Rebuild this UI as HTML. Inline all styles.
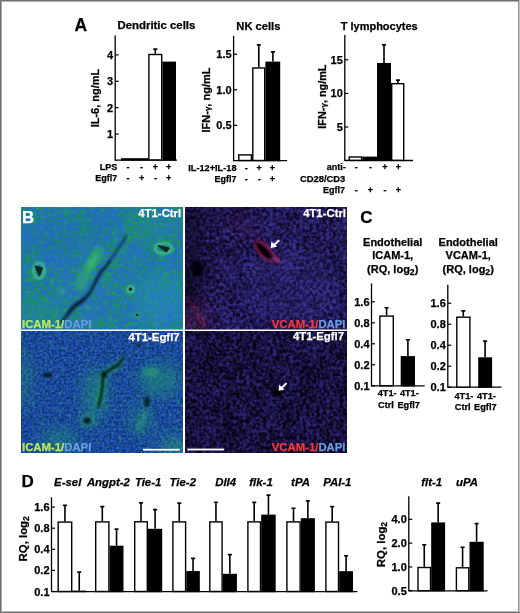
<!DOCTYPE html>
<html><head><meta charset="utf-8"><style>
html,body{margin:0;padding:0;background:#fff;}
svg{display:block;will-change:transform;filter:blur(0.3px);}
text{font-family:"Liberation Sans",sans-serif;stroke-width:0.25px;}
</style></head><body>
<svg xmlns="http://www.w3.org/2000/svg" width="520" height="613" viewBox="0 0 520 613">
<rect x="0" y="0" width="520" height="613" fill="#fff"/>
<rect x="0" y="0" width="520" height="1" fill="#6e6e6e"/><rect x="0" y="1" width="520" height="1" fill="#b0b0b0"/>
<rect x="0" y="0" width="1" height="613" fill="#707070"/><rect x="1" y="1" width="1" height="611" fill="#a4a4a4"/>
<rect x="518" y="1" width="1" height="611" fill="#959595"/><rect x="519" y="0" width="1" height="613" fill="#c0c0c0"/>
<rect x="1" y="611" width="518" height="1" fill="#b5b5b5"/><rect x="0" y="612" width="520" height="1" fill="#707070"/>
<text x="74.5" y="31" font-family="Liberation Sans" font-weight="bold" font-size="17.5" text-anchor="start" fill="#000" stroke="#000" >A</text>
<text x="117.5" y="29.3" font-family="Liberation Sans" font-weight="bold" font-size="11.4" text-anchor="start" fill="#000" stroke="#000" >Dendritic cells</text>
<line x1="115.2" y1="35.4" x2="115.2" y2="160.7" stroke="#000" stroke-width="1.3"/>
<line x1="115.2" y1="134.1" x2="118.7" y2="134.1" stroke="#000" stroke-width="1.2"/>
<text x="113.2" y="138.1" font-family="Liberation Sans" font-weight="bold" font-size="11" text-anchor="end" fill="#000" stroke="#000" >1</text>
<line x1="115.2" y1="107.7" x2="118.7" y2="107.7" stroke="#000" stroke-width="1.2"/>
<text x="113.2" y="111.7" font-family="Liberation Sans" font-weight="bold" font-size="11" text-anchor="end" fill="#000" stroke="#000" >2</text>
<line x1="115.2" y1="81.30000000000001" x2="118.7" y2="81.30000000000001" stroke="#000" stroke-width="1.2"/>
<text x="113.2" y="85.30000000000001" font-family="Liberation Sans" font-weight="bold" font-size="11" text-anchor="end" fill="#000" stroke="#000" >3</text>
<line x1="115.2" y1="54.900000000000006" x2="118.7" y2="54.900000000000006" stroke="#000" stroke-width="1.2"/>
<text x="113.2" y="58.900000000000006" font-family="Liberation Sans" font-weight="bold" font-size="11" text-anchor="end" fill="#000" stroke="#000" >4</text>
<line x1="115.2" y1="160.1" x2="177" y2="160.1" stroke="#000" stroke-width="1.3"/>
<rect x="121.70" y="158.90" width="26.00" height="1.00" fill="#000" stroke="#000" stroke-width="1.4"/>
<rect x="148.90" y="54.50" width="12.80" height="105.40" fill="#fff" stroke="#000" stroke-width="1.4"/>
<rect x="163.10" y="62.30" width="12.20" height="97.60" fill="#000" stroke="#000" stroke-width="1.4"/>
<line x1="155.3" y1="49.3" x2="155.3" y2="53.8" stroke="#000" stroke-width="1.6"/>
<rect x="153.15" y="48.30" width="4.3" height="1.7" rx="0.7" fill="#000"/>
<text transform="translate(99.3,98) rotate(-90)" font-family="Liberation Sans" font-weight="bold" font-size="11" text-anchor="middle" fill="#000" stroke="#000">IL-6, ng/mL</text>
<text x="117.3" y="170.2" font-family="Liberation Sans" font-weight="bold" font-size="9" text-anchor="end" fill="#000" stroke="#000" >LPS</text>
<text x="117.3" y="181.4" font-family="Liberation Sans" font-weight="bold" font-size="9" text-anchor="end" fill="#000" stroke="#000" >Egfl7</text>
<text x="128" y="170" font-family="Liberation Sans" font-weight="bold" font-size="9" text-anchor="middle" fill="#000" stroke="#000" >-</text>
<text x="128" y="181" font-family="Liberation Sans" font-weight="bold" font-size="9" text-anchor="middle" fill="#000" stroke="#000" >-</text>
<text x="141.6" y="170" font-family="Liberation Sans" font-weight="bold" font-size="9" text-anchor="middle" fill="#000" stroke="#000" >-</text>
<text x="141.6" y="181" font-family="Liberation Sans" font-weight="bold" font-size="9" text-anchor="middle" fill="#000" stroke="#000" >+</text>
<text x="155.4" y="170" font-family="Liberation Sans" font-weight="bold" font-size="9" text-anchor="middle" fill="#000" stroke="#000" >+</text>
<text x="155.4" y="181" font-family="Liberation Sans" font-weight="bold" font-size="9" text-anchor="middle" fill="#000" stroke="#000" >-</text>
<text x="168.7" y="170" font-family="Liberation Sans" font-weight="bold" font-size="9" text-anchor="middle" fill="#000" stroke="#000" >+</text>
<text x="168.7" y="181" font-family="Liberation Sans" font-weight="bold" font-size="9" text-anchor="middle" fill="#000" stroke="#000" >+</text>
<text x="236.3" y="29.5" font-family="Liberation Sans" font-weight="bold" font-size="11.2" text-anchor="start" fill="#000" stroke="#000" >NK cells</text>
<line x1="233.6" y1="35.8" x2="233.6" y2="161.29999999999998" stroke="#000" stroke-width="1.3"/>
<line x1="233.6" y1="125.4" x2="237.1" y2="125.4" stroke="#000" stroke-width="1.2"/>
<text x="231.6" y="129.4" font-family="Liberation Sans" font-weight="bold" font-size="11" text-anchor="end" fill="#000" stroke="#000" >0.5</text>
<line x1="233.6" y1="89.8" x2="237.1" y2="89.8" stroke="#000" stroke-width="1.2"/>
<text x="231.6" y="93.8" font-family="Liberation Sans" font-weight="bold" font-size="11" text-anchor="end" fill="#000" stroke="#000" >1.0</text>
<line x1="233.6" y1="54.19999999999999" x2="237.1" y2="54.19999999999999" stroke="#000" stroke-width="1.2"/>
<text x="231.6" y="58.19999999999999" font-family="Liberation Sans" font-weight="bold" font-size="11" text-anchor="end" fill="#000" stroke="#000" >1.5</text>
<line x1="233.6" y1="160.7" x2="287.1" y2="160.7" stroke="#000" stroke-width="1.3"/>
<rect x="238.80" y="154.90" width="12.60" height="5.60" fill="#fff" stroke="#000" stroke-width="1.4"/>
<rect x="252.80" y="68.00" width="11.90" height="92.50" fill="#fff" stroke="#000" stroke-width="1.4"/>
<rect x="266.10" y="62.30" width="13.40" height="98.20" fill="#000" stroke="#000" stroke-width="1.4"/>
<line x1="258.8" y1="45" x2="258.8" y2="67.3" stroke="#000" stroke-width="1.6"/>
<rect x="256.65" y="44.00" width="4.3" height="1.7" rx="0.7" fill="#000"/>
<line x1="272.9" y1="52" x2="272.9" y2="61.6" stroke="#000" stroke-width="1.6"/>
<rect x="270.75" y="51.00" width="4.3" height="1.7" rx="0.7" fill="#000"/>
<text transform="translate(210,100) rotate(-90)" font-family="Liberation Sans" font-weight="bold" font-size="11" text-anchor="middle" stroke="#000">IFN-<tspan font-size="8">γ</tspan>, ng/mL</text>
<text x="236.5" y="170.8" font-family="Liberation Sans" font-weight="bold" font-size="9.2" text-anchor="end" fill="#000" stroke="#000" >IL-12+IL-18</text>
<text x="236.5" y="182.3" font-family="Liberation Sans" font-weight="bold" font-size="9" text-anchor="end" fill="#000" stroke="#000" >Egfl7</text>
<text x="246.2" y="170.5" font-family="Liberation Sans" font-weight="bold" font-size="9" text-anchor="middle" fill="#000" stroke="#000" >-</text>
<text x="246.2" y="182" font-family="Liberation Sans" font-weight="bold" font-size="9" text-anchor="middle" fill="#000" stroke="#000" >-</text>
<text x="259.2" y="170.5" font-family="Liberation Sans" font-weight="bold" font-size="9" text-anchor="middle" fill="#000" stroke="#000" >+</text>
<text x="259.2" y="182" font-family="Liberation Sans" font-weight="bold" font-size="9" text-anchor="middle" fill="#000" stroke="#000" >-</text>
<text x="272.3" y="170.5" font-family="Liberation Sans" font-weight="bold" font-size="9" text-anchor="middle" fill="#000" stroke="#000" >+</text>
<text x="272.3" y="182" font-family="Liberation Sans" font-weight="bold" font-size="9" text-anchor="middle" fill="#000" stroke="#000" >+</text>
<text x="340.7" y="29.5" font-family="Liberation Sans" font-weight="bold" font-size="11" text-anchor="start" fill="#000" stroke="#000" >T lymphocytes</text>
<line x1="344.8" y1="35" x2="344.8" y2="161.1" stroke="#000" stroke-width="1.3"/>
<line x1="344.8" y1="127.0" x2="348.3" y2="127.0" stroke="#000" stroke-width="1.2"/>
<text x="342.8" y="131.0" font-family="Liberation Sans" font-weight="bold" font-size="11" text-anchor="end" fill="#000" stroke="#000" >5</text>
<line x1="344.8" y1="93.39999999999999" x2="348.3" y2="93.39999999999999" stroke="#000" stroke-width="1.2"/>
<text x="342.8" y="97.39999999999999" font-family="Liberation Sans" font-weight="bold" font-size="11" text-anchor="end" fill="#000" stroke="#000" >10</text>
<line x1="344.8" y1="59.8" x2="348.3" y2="59.8" stroke="#000" stroke-width="1.2"/>
<text x="342.8" y="63.8" font-family="Liberation Sans" font-weight="bold" font-size="11" text-anchor="end" fill="#000" stroke="#000" >15</text>
<line x1="344.8" y1="160.5" x2="413.1" y2="160.5" stroke="#000" stroke-width="1.3"/>
<rect x="349.20" y="157.00" width="12.40" height="3.30" fill="#fff" stroke="#000" stroke-width="1.4"/>
<rect x="363.00" y="157.30" width="13.30" height="3.00" fill="#000" stroke="#000" stroke-width="1.4"/>
<rect x="377.70" y="63.70" width="12.60" height="96.60" fill="#000" stroke="#000" stroke-width="1.4"/>
<rect x="391.70" y="83.70" width="12.00" height="76.60" fill="#fff" stroke="#000" stroke-width="1.4"/>
<line x1="384" y1="45" x2="384" y2="63" stroke="#000" stroke-width="1.6"/>
<rect x="381.85" y="44.00" width="4.3" height="1.7" rx="0.7" fill="#000"/>
<line x1="397.9" y1="80.2" x2="397.9" y2="83" stroke="#000" stroke-width="1.6"/>
<rect x="395.75" y="79.20" width="4.3" height="1.7" rx="0.7" fill="#000"/>
<text transform="translate(325.6,96.6) rotate(-90)" font-family="Liberation Sans" font-weight="bold" font-size="10.85" text-anchor="middle" stroke="#000">IFN-<tspan font-size="8">γ</tspan>, ng/mL</text>
<text x="345.7" y="169.9" font-family="Liberation Sans" font-weight="bold" font-size="9" text-anchor="end" fill="#000" stroke="#000" >anti-</text>
<text x="345.3" y="182.1" font-family="Liberation Sans" font-weight="bold" font-size="9.4" text-anchor="end" fill="#000" stroke="#000" >CD28/CD3</text>
<text x="345" y="192.9" font-family="Liberation Sans" font-weight="bold" font-size="9" text-anchor="end" fill="#000" stroke="#000" >Egfl7</text>
<text x="356.3" y="170" font-family="Liberation Sans" font-weight="bold" font-size="9" text-anchor="middle" fill="#000" stroke="#000" >-</text>
<text x="356.3" y="193" font-family="Liberation Sans" font-weight="bold" font-size="9" text-anchor="middle" fill="#000" stroke="#000" >-</text>
<text x="370.5" y="170" font-family="Liberation Sans" font-weight="bold" font-size="9" text-anchor="middle" fill="#000" stroke="#000" >-</text>
<text x="370.5" y="193" font-family="Liberation Sans" font-weight="bold" font-size="9" text-anchor="middle" fill="#000" stroke="#000" >+</text>
<text x="385" y="170" font-family="Liberation Sans" font-weight="bold" font-size="9" text-anchor="middle" fill="#000" stroke="#000" >+</text>
<text x="385" y="193" font-family="Liberation Sans" font-weight="bold" font-size="9" text-anchor="middle" fill="#000" stroke="#000" >-</text>
<text x="398.3" y="170" font-family="Liberation Sans" font-weight="bold" font-size="9" text-anchor="middle" fill="#000" stroke="#000" >+</text>
<text x="398.3" y="193" font-family="Liberation Sans" font-weight="bold" font-size="9" text-anchor="middle" fill="#000" stroke="#000" >+</text>
<text x="360.2" y="223.2" font-family="Liberation Sans" font-weight="bold" font-size="17" text-anchor="start" fill="#000" stroke="#000" >C</text>
<text x="392.7" y="245.8" font-family="Liberation Sans" font-weight="bold" font-size="11" text-anchor="middle" fill="#000" stroke="#000" >Endothelial</text>
<text x="392.7" y="259.1" font-family="Liberation Sans" font-weight="bold" font-size="11" text-anchor="middle" fill="#000" stroke="#000" >ICAM-1,</text>
<text x="392.7" y="272.6" font-family="Liberation Sans" font-weight="bold" font-size="11" text-anchor="middle" stroke="#000">(RQ, log<tspan font-size="8.6" dy="2.4">2</tspan><tspan dy="-2.4">)</tspan></text>
<line x1="371.5" y1="283.5" x2="371.5" y2="386.40000000000003" stroke="#000" stroke-width="1.3"/>
<line x1="371.5" y1="385.8" x2="375.0" y2="385.8" stroke="#000" stroke-width="1.2"/>
<text x="369.5" y="389.8" font-family="Liberation Sans" font-weight="bold" font-size="11" text-anchor="end" fill="#000" stroke="#000" >0.1</text>
<line x1="371.5" y1="364.8" x2="375.0" y2="364.8" stroke="#000" stroke-width="1.2"/>
<text x="369.5" y="368.8" font-family="Liberation Sans" font-weight="bold" font-size="11" text-anchor="end" fill="#000" stroke="#000" >0.2</text>
<line x1="371.5" y1="343.8" x2="375.0" y2="343.8" stroke="#000" stroke-width="1.2"/>
<text x="369.5" y="347.8" font-family="Liberation Sans" font-weight="bold" font-size="11" text-anchor="end" fill="#000" stroke="#000" >0.4</text>
<line x1="371.5" y1="322.8" x2="375.0" y2="322.8" stroke="#000" stroke-width="1.2"/>
<text x="369.5" y="326.8" font-family="Liberation Sans" font-weight="bold" font-size="11" text-anchor="end" fill="#000" stroke="#000" >0.8</text>
<line x1="371.5" y1="301.8" x2="375.0" y2="301.8" stroke="#000" stroke-width="1.2"/>
<text x="369.5" y="305.8" font-family="Liberation Sans" font-weight="bold" font-size="11" text-anchor="end" fill="#000" stroke="#000" >1.6</text>
<line x1="371.5" y1="385.8" x2="424.7" y2="385.8" stroke="#000" stroke-width="1.3"/>
<rect x="379.90" y="316.10" width="13.40" height="69.60" fill="#fff" stroke="#000" stroke-width="1.4"/>
<line x1="386.6" y1="307.9" x2="386.6" y2="315.4" stroke="#000" stroke-width="1.6"/>
<rect x="384.45" y="306.90" width="4.3" height="1.7" rx="0.7" fill="#000"/>
<rect x="401.40" y="356.80" width="12.90" height="28.90" fill="#000" stroke="#000" stroke-width="1.4"/>
<line x1="407.9" y1="339.9" x2="407.9" y2="356.1" stroke="#000" stroke-width="1.6"/>
<rect x="405.75" y="338.90" width="4.3" height="1.7" rx="0.7" fill="#000"/>
<text x="377.7" y="395.5" font-family="Liberation Sans" font-weight="bold" font-size="9.2" text-anchor="start" fill="#000" stroke="#000" >4T1-</text>
<text x="399.9" y="395.5" font-family="Liberation Sans" font-weight="bold" font-size="9.2" text-anchor="start" fill="#000" stroke="#000" >4T1-</text>
<text x="378" y="407.6" font-family="Liberation Sans" font-weight="bold" font-size="9.2" text-anchor="start" fill="#000" stroke="#000" >Ctrl</text>
<text x="397.4" y="407.6" font-family="Liberation Sans" font-weight="bold" font-size="9.2" text-anchor="start" fill="#000" stroke="#000" >Egfl7</text>
<text x="468.2" y="245.8" font-family="Liberation Sans" font-weight="bold" font-size="11" text-anchor="middle" fill="#000" stroke="#000" >Endothelial</text>
<text x="468.2" y="259.1" font-family="Liberation Sans" font-weight="bold" font-size="11" text-anchor="middle" fill="#000" stroke="#000" >VCAM-1,</text>
<text x="468.2" y="272.6" font-family="Liberation Sans" font-weight="bold" font-size="11" text-anchor="middle" stroke="#000">(RQ, log<tspan font-size="8.6" dy="2.4">2</tspan><tspan dy="-2.4">)</tspan></text>
<line x1="447.8" y1="284.8" x2="447.8" y2="387.8" stroke="#000" stroke-width="1.3"/>
<line x1="447.8" y1="387.2" x2="451.3" y2="387.2" stroke="#000" stroke-width="1.2"/>
<text x="445.8" y="391.2" font-family="Liberation Sans" font-weight="bold" font-size="11" text-anchor="end" fill="#000" stroke="#000" >0.1</text>
<line x1="447.8" y1="366.2" x2="451.3" y2="366.2" stroke="#000" stroke-width="1.2"/>
<text x="445.8" y="370.2" font-family="Liberation Sans" font-weight="bold" font-size="11" text-anchor="end" fill="#000" stroke="#000" >0.2</text>
<line x1="447.8" y1="345.2" x2="451.3" y2="345.2" stroke="#000" stroke-width="1.2"/>
<text x="445.8" y="349.2" font-family="Liberation Sans" font-weight="bold" font-size="11" text-anchor="end" fill="#000" stroke="#000" >0.4</text>
<line x1="447.8" y1="324.2" x2="451.3" y2="324.2" stroke="#000" stroke-width="1.2"/>
<text x="445.8" y="328.2" font-family="Liberation Sans" font-weight="bold" font-size="11" text-anchor="end" fill="#000" stroke="#000" >0.8</text>
<line x1="447.8" y1="303.2" x2="451.3" y2="303.2" stroke="#000" stroke-width="1.2"/>
<text x="445.8" y="307.2" font-family="Liberation Sans" font-weight="bold" font-size="11" text-anchor="end" fill="#000" stroke="#000" >1.6</text>
<line x1="447.8" y1="387.2" x2="501.5" y2="387.2" stroke="#000" stroke-width="1.3"/>
<rect x="456.80" y="317.20" width="13.10" height="69.90" fill="#fff" stroke="#000" stroke-width="1.4"/>
<line x1="463.3" y1="311.1" x2="463.3" y2="316.5" stroke="#000" stroke-width="1.6"/>
<rect x="461.15" y="310.10" width="4.3" height="1.7" rx="0.7" fill="#000"/>
<rect x="478.90" y="358.00" width="12.50" height="29.10" fill="#000" stroke="#000" stroke-width="1.4"/>
<line x1="485.1" y1="341.2" x2="485.1" y2="357.3" stroke="#000" stroke-width="1.6"/>
<rect x="482.95" y="340.20" width="4.3" height="1.7" rx="0.7" fill="#000"/>
<text x="454.5" y="398.7" font-family="Liberation Sans" font-weight="bold" font-size="9.2" text-anchor="start" fill="#000" stroke="#000" >4T1-</text>
<text x="477" y="398.7" font-family="Liberation Sans" font-weight="bold" font-size="9.2" text-anchor="start" fill="#000" stroke="#000" >4T1-</text>
<text x="454.8" y="409.9" font-family="Liberation Sans" font-weight="bold" font-size="9.2" text-anchor="start" fill="#000" stroke="#000" >Ctrl</text>
<text x="474.1" y="409.9" font-family="Liberation Sans" font-weight="bold" font-size="9.2" text-anchor="start" fill="#000" stroke="#000" >Egfl7</text>
<text x="21.6" y="486.5" font-family="Liberation Sans" font-weight="bold" font-size="17" text-anchor="start" fill="#000" stroke="#000" >D</text>
<line x1="51.5" y1="497.3" x2="51.5" y2="592.1" stroke="#000" stroke-width="1.3"/>
<line x1="51.5" y1="591.5" x2="55.0" y2="591.5" stroke="#000" stroke-width="1.2"/>
<text x="49.5" y="595.5" font-family="Liberation Sans" font-weight="bold" font-size="11" text-anchor="end" fill="#000" stroke="#000" >0.1</text>
<line x1="51.5" y1="570.4" x2="55.0" y2="570.4" stroke="#000" stroke-width="1.2"/>
<text x="49.5" y="574.4" font-family="Liberation Sans" font-weight="bold" font-size="11" text-anchor="end" fill="#000" stroke="#000" >0.2</text>
<line x1="51.5" y1="549.3" x2="55.0" y2="549.3" stroke="#000" stroke-width="1.2"/>
<text x="49.5" y="553.3" font-family="Liberation Sans" font-weight="bold" font-size="11" text-anchor="end" fill="#000" stroke="#000" >0.4</text>
<line x1="51.5" y1="528.2" x2="55.0" y2="528.2" stroke="#000" stroke-width="1.2"/>
<text x="49.5" y="532.2" font-family="Liberation Sans" font-weight="bold" font-size="11" text-anchor="end" fill="#000" stroke="#000" >0.8</text>
<line x1="51.5" y1="507.1" x2="55.0" y2="507.1" stroke="#000" stroke-width="1.2"/>
<text x="49.5" y="511.1" font-family="Liberation Sans" font-weight="bold" font-size="11" text-anchor="end" fill="#000" stroke="#000" >1.6</text>
<line x1="51.5" y1="591.7" x2="357.4" y2="591.7" stroke="#000" stroke-width="1.3"/>
<text transform="translate(26.9,538.8) rotate(-90)" font-family="Liberation Sans" font-weight="bold" font-size="11.4" text-anchor="middle" stroke="#000">RQ, log<tspan font-size="8.6" dy="2.4">2</tspan></text>
<text x="54.1" y="485.6" font-family="Liberation Sans" font-weight="bold" font-size="11.4" text-anchor="start" fill="#000" stroke="#000" font-style="italic" >E-sel</text>
<rect x="58.20" y="522.10" width="13.50" height="69.40" fill="#fff" stroke="#000" stroke-width="1.4"/>
<line x1="64.95" y1="505.6" x2="64.95" y2="521.4" stroke="#000" stroke-width="1.6"/>
<rect x="62.80" y="504.60" width="4.3" height="1.7" rx="0.7" fill="#000"/>
<rect x="73.10" y="591.30" width="12.30" height="0.20" fill="#000" stroke="#000" stroke-width="1.4"/>
<line x1="79.25" y1="572.3" x2="79.25" y2="590.6" stroke="#000" stroke-width="1.6"/>
<rect x="77.10" y="571.30" width="4.3" height="1.7" rx="0.7" fill="#000"/>
<text x="86.9" y="485.6" font-family="Liberation Sans" font-weight="bold" font-size="11.4" text-anchor="start" fill="#000" stroke="#000" font-style="italic" >Angpt-2</text>
<rect x="95.70" y="521.90" width="13.20" height="69.60" fill="#fff" stroke="#000" stroke-width="1.4"/>
<line x1="102.3" y1="506.7" x2="102.3" y2="521.2" stroke="#000" stroke-width="1.6"/>
<rect x="100.15" y="505.70" width="4.3" height="1.7" rx="0.7" fill="#000"/>
<rect x="110.30" y="546.40" width="12.50" height="45.10" fill="#000" stroke="#000" stroke-width="1.4"/>
<line x1="116.55" y1="529.3" x2="116.55" y2="545.7" stroke="#000" stroke-width="1.6"/>
<rect x="114.40" y="528.30" width="4.3" height="1.7" rx="0.7" fill="#000"/>
<text x="134.9" y="485.6" font-family="Liberation Sans" font-weight="bold" font-size="11.4" text-anchor="start" fill="#000" stroke="#000" font-style="italic" >Tie-1</text>
<rect x="134.70" y="521.80" width="12.60" height="69.70" fill="#fff" stroke="#000" stroke-width="1.4"/>
<line x1="141.0" y1="503.1" x2="141.0" y2="521.1" stroke="#000" stroke-width="1.6"/>
<rect x="138.85" y="502.10" width="4.3" height="1.7" rx="0.7" fill="#000"/>
<rect x="148.70" y="529.50" width="12.80" height="62.00" fill="#000" stroke="#000" stroke-width="1.4"/>
<line x1="155.1" y1="509.8" x2="155.1" y2="528.8" stroke="#000" stroke-width="1.6"/>
<rect x="152.95" y="508.80" width="4.3" height="1.7" rx="0.7" fill="#000"/>
<text x="169.6" y="485.6" font-family="Liberation Sans" font-weight="bold" font-size="11.4" text-anchor="start" fill="#000" stroke="#000" font-style="italic" >Tie-2</text>
<rect x="172.90" y="521.90" width="12.70" height="69.60" fill="#fff" stroke="#000" stroke-width="1.4"/>
<line x1="179.25" y1="503.3" x2="179.25" y2="521.2" stroke="#000" stroke-width="1.6"/>
<rect x="177.10" y="502.30" width="4.3" height="1.7" rx="0.7" fill="#000"/>
<rect x="187.00" y="571.70" width="12.10" height="19.80" fill="#000" stroke="#000" stroke-width="1.4"/>
<line x1="193.05" y1="558.5" x2="193.05" y2="571" stroke="#000" stroke-width="1.6"/>
<rect x="190.90" y="557.50" width="4.3" height="1.7" rx="0.7" fill="#000"/>
<text x="215.2" y="485.6" font-family="Liberation Sans" font-weight="bold" font-size="11.4" text-anchor="start" fill="#000" stroke="#000" font-style="italic" >Dll4</text>
<rect x="209.80" y="521.90" width="12.30" height="69.60" fill="#fff" stroke="#000" stroke-width="1.4"/>
<line x1="215.95" y1="502.4" x2="215.95" y2="521.2" stroke="#000" stroke-width="1.6"/>
<rect x="213.80" y="501.40" width="4.3" height="1.7" rx="0.7" fill="#000"/>
<rect x="223.50" y="574.50" width="12.70" height="17.00" fill="#000" stroke="#000" stroke-width="1.4"/>
<line x1="229.85000000000002" y1="554.7" x2="229.85000000000002" y2="573.8" stroke="#000" stroke-width="1.6"/>
<rect x="227.70" y="553.70" width="4.3" height="1.7" rx="0.7" fill="#000"/>
<text x="249.3" y="485.6" font-family="Liberation Sans" font-weight="bold" font-size="11.4" text-anchor="start" fill="#000" stroke="#000" font-style="italic" >flk-1</text>
<rect x="247.90" y="521.90" width="12.60" height="69.60" fill="#fff" stroke="#000" stroke-width="1.4"/>
<line x1="254.2" y1="502.5" x2="254.2" y2="521.2" stroke="#000" stroke-width="1.6"/>
<rect x="252.05" y="501.50" width="4.3" height="1.7" rx="0.7" fill="#000"/>
<rect x="261.90" y="515.30" width="13.10" height="76.20" fill="#000" stroke="#000" stroke-width="1.4"/>
<line x1="268.45" y1="495.3" x2="268.45" y2="514.6" stroke="#000" stroke-width="1.6"/>
<rect x="266.30" y="494.30" width="4.3" height="1.7" rx="0.7" fill="#000"/>
<text x="291.1" y="485.6" font-family="Liberation Sans" font-weight="bold" font-size="11.4" text-anchor="start" fill="#000" stroke="#000" font-style="italic" >tPA</text>
<rect x="286.90" y="521.90" width="13.20" height="69.60" fill="#fff" stroke="#000" stroke-width="1.4"/>
<line x1="293.5" y1="508.4" x2="293.5" y2="521.2" stroke="#000" stroke-width="1.6"/>
<rect x="291.35" y="507.40" width="4.3" height="1.7" rx="0.7" fill="#000"/>
<rect x="301.50" y="518.90" width="12.70" height="72.60" fill="#000" stroke="#000" stroke-width="1.4"/>
<line x1="307.85" y1="501" x2="307.85" y2="518.2" stroke="#000" stroke-width="1.6"/>
<rect x="305.70" y="500.00" width="4.3" height="1.7" rx="0.7" fill="#000"/>
<text x="323.2" y="485.6" font-family="Liberation Sans" font-weight="bold" font-size="11.4" text-anchor="start" fill="#000" stroke="#000" font-style="italic" >PAI-1</text>
<rect x="325.90" y="522.10" width="12.60" height="69.40" fill="#fff" stroke="#000" stroke-width="1.4"/>
<line x1="332.2" y1="506.7" x2="332.2" y2="521.4" stroke="#000" stroke-width="1.6"/>
<rect x="330.05" y="505.70" width="4.3" height="1.7" rx="0.7" fill="#000"/>
<rect x="339.90" y="571.90" width="12.40" height="19.60" fill="#000" stroke="#000" stroke-width="1.4"/>
<line x1="346.1" y1="555.9" x2="346.1" y2="571.2" stroke="#000" stroke-width="1.6"/>
<rect x="343.95" y="554.90" width="4.3" height="1.7" rx="0.7" fill="#000"/>
<line x1="408.8" y1="496.25" x2="408.8" y2="591.35" stroke="#000" stroke-width="1.3"/>
<line x1="408.8" y1="590.75" x2="412.3" y2="590.75" stroke="#000" stroke-width="1.2"/>
<text x="406.8" y="594.75" font-family="Liberation Sans" font-weight="bold" font-size="11" text-anchor="end" fill="#000" stroke="#000" >0.5</text>
<line x1="408.8" y1="566.95" x2="412.3" y2="566.95" stroke="#000" stroke-width="1.2"/>
<text x="406.8" y="570.95" font-family="Liberation Sans" font-weight="bold" font-size="11" text-anchor="end" fill="#000" stroke="#000" >1.0</text>
<line x1="408.8" y1="543.15" x2="412.3" y2="543.15" stroke="#000" stroke-width="1.2"/>
<text x="406.8" y="547.15" font-family="Liberation Sans" font-weight="bold" font-size="11" text-anchor="end" fill="#000" stroke="#000" >2.0</text>
<line x1="408.8" y1="519.35" x2="412.3" y2="519.35" stroke="#000" stroke-width="1.2"/>
<text x="406.8" y="523.35" font-family="Liberation Sans" font-weight="bold" font-size="11" text-anchor="end" fill="#000" stroke="#000" >4.0</text>
<line x1="408.8" y1="590.9" x2="487.5" y2="590.9" stroke="#000" stroke-width="1.3"/>
<text transform="translate(384.5,544.5) rotate(-90)" font-family="Liberation Sans" font-weight="bold" font-size="11.4" text-anchor="middle" stroke="#000">RQ, log<tspan font-size="8.6" dy="2.4">2</tspan></text>
<text x="421.3" y="485.6" font-family="Liberation Sans" font-weight="bold" font-size="11.4" text-anchor="start" fill="#000" stroke="#000" font-style="italic" >flt-1</text>
<rect x="418.00" y="567.50" width="12.50" height="23.20" fill="#fff" stroke="#000" stroke-width="1.4"/>
<line x1="424.25" y1="544.9" x2="424.25" y2="566.8" stroke="#000" stroke-width="1.6"/>
<rect x="422.10" y="543.90" width="4.3" height="1.7" rx="0.7" fill="#000"/>
<rect x="431.90" y="523.10" width="12.50" height="67.60" fill="#000" stroke="#000" stroke-width="1.4"/>
<line x1="438.15" y1="503.3" x2="438.15" y2="522.4" stroke="#000" stroke-width="1.6"/>
<rect x="436.00" y="502.30" width="4.3" height="1.7" rx="0.7" fill="#000"/>
<text x="456" y="485.6" font-family="Liberation Sans" font-weight="bold" font-size="11.4" text-anchor="start" fill="#000" stroke="#000" font-style="italic" >uPA</text>
<rect x="456.40" y="567.80" width="12.40" height="22.90" fill="#fff" stroke="#000" stroke-width="1.4"/>
<line x1="462.6" y1="547.4" x2="462.6" y2="567.1" stroke="#000" stroke-width="1.6"/>
<rect x="460.45" y="546.40" width="4.3" height="1.7" rx="0.7" fill="#000"/>
<rect x="470.20" y="542.50" width="12.80" height="48.20" fill="#000" stroke="#000" stroke-width="1.4"/>
<line x1="476.6" y1="523.7" x2="476.6" y2="541.8" stroke="#000" stroke-width="1.6"/>
<rect x="474.45" y="522.70" width="4.3" height="1.7" rx="0.7" fill="#000"/>
<defs>
<filter id="ct1" x="0" y="0" width="1" height="1" color-interpolation-filters="sRGB"><feTurbulence type="turbulence" baseFrequency="0.22" numOctaves="2" seed="3" result="a"/><feColorMatrix in="a" type="matrix" values="0 0 0 1 0 0 0 0 1 0 0 0 0 1 0 0 0 0 0 1" result="ga"/><feTurbulence type="fractalNoise" baseFrequency="0.04" numOctaves="2" seed="11" result="b"/><feColorMatrix in="b" type="matrix" values="0 0 0 1 0 0 0 0 1 0 0 0 0 1 0 0 0 0 0 1" result="gb"/><feComposite in="ga" in2="gb" operator="arithmetic" k1="0" k2="3.0" k3="0.9" k4="-0.4700"/><feColorMatrix type="matrix" values="0.0471 0 0 0 0.0941 -0.1490 0 0 0 0.5804 0.4549 0 0 0 0.3216 0 0 0 0 1"/><feGaussianBlur stdDeviation="0.5"/></filter>
<filter id="sp1" x="0" y="0" width="1" height="1" color-interpolation-filters="sRGB"><feTurbulence type="fractalNoise" baseFrequency="0.22" numOctaves="2" seed="21"/><feColorMatrix type="matrix" values="0 0 0 0 0.2353 0 0 0 0 0.7843 0 0 0 0 0.3529 0 0 0 4.0 -2.2400"/><feGaussianBlur stdDeviation="0.6"/></filter>
<filter id="sp3" x="0" y="0" width="1" height="1" color-interpolation-filters="sRGB"><feTurbulence type="fractalNoise" baseFrequency="0.22" numOctaves="2" seed="23"/><feColorMatrix type="matrix" values="0 0 0 0 0.1961 0 0 0 0 0.7059 0 0 0 0 0.4314 0 0 0 4.0 -2.3200"/><feGaussianBlur stdDeviation="0.6"/></filter>
<filter id="t1" x="0" y="0" width="1" height="1" color-interpolation-filters="sRGB"><feTurbulence type="fractalNoise" baseFrequency="0.3" numOctaves="3" seed="3" result="a"/><feColorMatrix in="a" type="matrix" values="0 0 0 1 0 0 0 0 1 0 0 0 0 1 0 0 0 0 0 1" result="ga"/><feTurbulence type="fractalNoise" baseFrequency="0.04" numOctaves="2" seed="11" result="b"/><feColorMatrix in="b" type="matrix" values="0 0 0 1 0 0 0 0 1 0 0 0 0 1 0 0 0 0 0 1" result="gb"/><feComposite in="ga" in2="gb" operator="arithmetic" k1="0" k2="2.4" k3="1.0" k4="-1.2200"/><feColorMatrix type="matrix" values="0.0627 0 0 0 0.0627 -0.1490 0 0 0 0.5412 0.4627 0 0 0 0.3059 0 0 0 0 1"/><feGaussianBlur stdDeviation="0.4"/></filter>
<filter id="t2" x="0" y="0" width="1" height="1" color-interpolation-filters="sRGB"><feTurbulence type="fractalNoise" baseFrequency="0.3" numOctaves="3" seed="5" result="a"/><feColorMatrix in="a" type="matrix" values="0 0 0 1 0 0 0 0 1 0 0 0 0 1 0 0 0 0 0 1" result="ga"/><feTurbulence type="fractalNoise" baseFrequency="0.05" numOctaves="2" seed="11" result="b"/><feColorMatrix in="b" type="matrix" values="0 0 0 1 0 0 0 0 1 0 0 0 0 1 0 0 0 0 0 1" result="gb"/><feComposite in="ga" in2="gb" operator="arithmetic" k1="0" k2="2.2" k3="0.6" k4="-0.9500"/><feColorMatrix type="matrix" values="0.1569 0 0 0 0.0549 0.1490 0 0 0 0.0314 0.4157 0 0 0 0.1412 0 0 0 0 1"/><feGaussianBlur stdDeviation="0.4"/></filter>
<filter id="t3" x="0" y="0" width="1" height="1" color-interpolation-filters="sRGB"><feTurbulence type="fractalNoise" baseFrequency="0.42" numOctaves="3" seed="7" result="a"/><feColorMatrix in="a" type="matrix" values="0 0 0 1 0 0 0 0 1 0 0 0 0 1 0 0 0 0 0 1" result="ga"/><feTurbulence type="fractalNoise" baseFrequency="0.05" numOctaves="2" seed="11" result="b"/><feColorMatrix in="b" type="matrix" values="0 0 0 1 0 0 0 0 1 0 0 0 0 1 0 0 0 0 0 1" result="gb"/><feComposite in="ga" in2="gb" operator="arithmetic" k1="0" k2="2.5" k3="0.0" k4="-0.7500"/><feColorMatrix type="matrix" values="0.0941 0 0 0 0.0549 0.1333 0 0 0 0.2118 0.3294 0 0 0 0.4392 0 0 0 0 1"/><feGaussianBlur stdDeviation="0.3"/></filter>
<filter id="t4" x="0" y="0" width="1" height="1" color-interpolation-filters="sRGB"><feTurbulence type="fractalNoise" baseFrequency="0.3" numOctaves="3" seed="9" result="a"/><feColorMatrix in="a" type="matrix" values="0 0 0 1 0 0 0 0 1 0 0 0 0 1 0 0 0 0 0 1" result="ga"/><feTurbulence type="fractalNoise" baseFrequency="0.05" numOctaves="2" seed="11" result="b"/><feColorMatrix in="b" type="matrix" values="0 0 0 1 0 0 0 0 1 0 0 0 0 1 0 0 0 0 0 1" result="gb"/><feComposite in="ga" in2="gb" operator="arithmetic" k1="0" k2="2.2" k3="0.6" k4="-1.0200"/><feColorMatrix type="matrix" values="0.1490 0 0 0 0.0314 0.1333 0 0 0 0.0157 0.4000 0 0 0 0.0863 0 0 0 0 1"/><feGaussianBlur stdDeviation="0.4"/></filter>
<filter id="b05" x="-50%" y="-50%" width="200%" height="200%"><feGaussianBlur stdDeviation="0.6"/></filter>
<filter id="b1" x="-50%" y="-50%" width="200%" height="200%"><feGaussianBlur stdDeviation="1"/></filter>
<filter id="b2" x="-50%" y="-50%" width="200%" height="200%"><feGaussianBlur stdDeviation="2"/></filter>
<filter id="b4" x="-50%" y="-50%" width="200%" height="200%"><feGaussianBlur stdDeviation="4"/></filter>
<filter id="b8" x="-50%" y="-50%" width="200%" height="200%"><feGaussianBlur stdDeviation="8"/></filter>
<clipPath id="c1"><rect x="21" y="207" width="162" height="122.5"/></clipPath>
<clipPath id="c2"><rect x="185" y="207" width="162" height="122.5"/></clipPath>
<clipPath id="c3"><rect x="21" y="331" width="162" height="122"/></clipPath>
<clipPath id="c4"><rect x="185" y="331" width="162" height="122"/></clipPath>
</defs>
<g clip-path="url(#c1)">
<rect x="18" y="204" width="168" height="129" filter="url(#ct1)"/>
<rect x="18" y="204" width="168" height="129" filter="url(#sp1)" opacity="0.3"/>
<g filter="url(#b8)" opacity="0.30"><ellipse cx="50" cy="242" rx="28" ry="18" fill="#1a60c0"/><ellipse cx="160" cy="300" rx="25" ry="28" fill="#2a98c8"/><ellipse cx="100" cy="225" rx="20" ry="12" fill="#1a60c0"/><ellipse cx="40" cy="312" rx="25" ry="16" fill="#20a060"/><ellipse cx="150" cy="225" rx="25" ry="14" fill="#20a060"/></g>
<g filter="url(#b2)"><path d="M98,252 L92,262 L86,274 L80,285" stroke="#40c850" stroke-width="11" fill="none" stroke-linecap="round" opacity="0.38"/><path d="M96,257 L90,267" stroke="#50d860" stroke-width="4" fill="none" stroke-linecap="round" opacity="0.5"/><circle cx="62" cy="291" r="3" fill="#50d860" opacity="0.4"/><circle cx="137" cy="315" r="3" fill="#40c060" opacity="0.5"/></g>
<g filter="url(#b1)"><ellipse cx="39" cy="270.5" rx="5.5" ry="8" fill="none" stroke="#58e878" stroke-width="2.2" opacity="0.7"/><ellipse cx="163.5" cy="248.3" rx="8.5" ry="5.2" fill="none" stroke="#58e878" stroke-width="2.2" opacity="0.7"/><circle cx="130.5" cy="289.3" r="3" fill="none" stroke="#58e878" stroke-width="1.8" opacity="0.8"/></g>
<g filter="url(#b1)"><path d="M126,236 L124,240 L119,247.5 L114,254.4 L109.5,261.5" stroke="#0c2a50" stroke-width="2.6" fill="none" stroke-linecap="round" stroke-linejoin="round" opacity="0.7"/><path d="M109.5,261.5 L104.5,268.3 L101,271.5 L95.4,282 L89.6,293.4 L81.5,301.5 L74.6,306.1 L68.8,313 L64.2,318.8 L62,322" stroke="#0a2446" stroke-width="2.9" fill="none" stroke-linejoin="round" stroke-linecap="round"/><path d="M84,299.5 L74.6,306.1 L69,312.5" stroke="#0a2040" stroke-width="4" fill="none" stroke-linecap="round"/></g>
<g filter="url(#b05)"><path d="M35.2,266.2 L42.2,268 L39.4,275.6 Z" fill="#082a24" stroke="#082a24" stroke-width="1.4" stroke-linejoin="round"/><path d="M158.2,245.8 L169,248.3 L166.2,251.8 Z" fill="#082a24" stroke="#082a24" stroke-width="1.4" stroke-linejoin="round"/><circle cx="130.5" cy="289.3" r="1.7" fill="#083020"/><circle cx="137" cy="315" r="1.2" fill="#083020"/></g>
</g>
<g clip-path="url(#c2)">
<rect x="182" y="204" width="168" height="129" filter="url(#t2)"/>
<g filter="url(#b8)"><ellipse cx="290" cy="285" rx="45" ry="40" fill="#3a38b0" opacity="0.16"/><ellipse cx="192" cy="268" rx="12" ry="55" fill="#06030c" opacity="0.5"/><ellipse cx="205" cy="215" rx="25" ry="10" fill="#06030c" opacity="0.35"/><ellipse cx="245" cy="228" rx="6" ry="16" transform="rotate(-40 245 228)" fill="#501030" opacity="0.35"/><ellipse cx="196" cy="318" rx="12" ry="14" fill="#601040" opacity="0.35"/></g>
<g filter="url(#b1)"><ellipse cx="196.8" cy="268.5" rx="5.5" ry="8" fill="#050208"/><ellipse cx="264.5" cy="251" rx="5.2" ry="13" transform="rotate(-42 264.5 251)" fill="none" stroke="#c02040" stroke-width="1.6" opacity="0.6"/><ellipse cx="263.5" cy="250.8" rx="3.6" ry="11" transform="rotate(-42 263.5 250.8)" fill="#040206"/><path d="M262,241 L271,250.5 L277,258" stroke="#c82848" stroke-width="1.6" fill="none" opacity="0.55"/><path d="M189,300 L197,312 L203,328" stroke="#c02848" stroke-width="1.3" fill="none" opacity="0.55"/><path d="M186,316 L192,330" stroke="#c02848" stroke-width="1.2" fill="none" opacity="0.45"/></g>
<g filter="url(#b05)"><ellipse cx="277.5" cy="260.5" rx="3.2" ry="2" transform="rotate(25 277.5 260.5)" fill="#e83050" opacity="0.55"/><path d="M201.5,316 L205.5,326" stroke="#d02848" stroke-width="1.2" opacity="0.6"/></g>
<path d="M279.2,240.2 L273.8,245.2" stroke="#fff" stroke-width="1.9"/><path d="M270.7,248 L271.4,241.6 L277.2,246.8 Z" fill="#fff"/>
</g>
<g clip-path="url(#c3)">
<rect x="18" y="328" width="168" height="128" filter="url(#t3)"/>
<rect x="18" y="328" width="168" height="128" filter="url(#sp3)" opacity="0.35"/>
<g filter="url(#b8)" opacity="0.5"><ellipse cx="160" cy="380" rx="22" ry="16" fill="#20a070"/><ellipse cx="95" cy="395" rx="12" ry="28" fill="#20a070"/><ellipse cx="174" cy="447" rx="14" ry="10" fill="#30c070"/><ellipse cx="24" cy="380" rx="6" ry="30" fill="#20a070"/><ellipse cx="140" cy="420" rx="10" ry="15" fill="#20a070"/><ellipse cx="60" cy="440" rx="20" ry="10" fill="#20a070"/></g>
<g filter="url(#b2)"><path d="M123.2,358 L118.1,364.8 L107.8,371.1 L102.7,374.5 L102.7,384.2 L101,395.7 L98.7,406" fill="none" stroke="#30c060" stroke-width="7" opacity="0.45"/><ellipse cx="87" cy="420.4" rx="6" ry="5" fill="none" stroke="#40d070" stroke-width="2.5" opacity="0.55"/><path d="M147,410 L137,432" stroke="#40d060" stroke-width="2.5" opacity="0.55"/><ellipse cx="150" cy="372" rx="8" ry="5" fill="#40d070" opacity="0.35"/></g>
<g filter="url(#b1)"><path d="M123.2,358 L118.1,364.8 L107.8,371.1 L102.7,374.5 L102.7,384.2 L101,395.7 L98.7,406" fill="none" stroke="#06241a" stroke-width="2.8" stroke-linecap="round" stroke-linejoin="round"/><ellipse cx="104" cy="374.5" rx="3" ry="3.8" fill="#06241a"/><ellipse cx="47.6" cy="375" rx="4.2" ry="2.2" fill="#061a1c"/><ellipse cx="87" cy="420.4" rx="3.8" ry="3" fill="#06241a"/><ellipse cx="147" cy="401.5" rx="2.3" ry="5.5" fill="#06241a"/><ellipse cx="139" cy="345" rx="1.6" ry="2.3" fill="#082030"/></g>
</g>
<g clip-path="url(#c4)">
<rect x="182" y="328" width="168" height="128" filter="url(#t4)"/>
<g filter="url(#b1)"><ellipse cx="277" cy="393" rx="5.5" ry="3.5" fill="#030104"/></g>
<path d="M286.6,383.1 L281.6,387.9" stroke="#fff" stroke-width="1.9"/><path d="M278.5,390.8 L279.2,384.8 L284.6,389.6 Z" fill="#fff"/>
</g>
<text x="22" y="223" font-family="Liberation Sans" font-weight="bold" font-size="16.8" fill="#fff" stroke="#fff">B</text>
<text x="181.2" y="217.2" font-family="Liberation Sans" font-weight="bold" font-size="11.35" text-anchor="end" fill="#fff" stroke="#fff">4T1-Ctrl</text>
<text x="346" y="216.6" font-family="Liberation Sans" font-weight="bold" font-size="11.35" text-anchor="end" fill="#fff" stroke="#fff">4T1-Ctrl</text>
<text x="179.6" y="340.5" font-family="Liberation Sans" font-weight="bold" font-size="11.35" text-anchor="end" fill="#fff" stroke="#fff">4T1-Egfl7</text>
<text x="344" y="340" font-family="Liberation Sans" font-weight="bold" font-size="11.35" text-anchor="end" fill="#fff" stroke="#fff">4T1-Egfl7</text>
<text x="22" y="328" font-family="Liberation Sans" font-weight="bold" font-size="11.35" fill="#b8e85a" stroke="#b8e85a">ICAM-1/<tspan fill="#6a9ce0" stroke="#6a9ce0">DAPI</tspan></text>
<text x="22" y="451.2" font-family="Liberation Sans" font-weight="bold" font-size="11.35" fill="#b8e85a" stroke="#b8e85a">ICAM-1/<tspan fill="#6a9ce0" stroke="#6a9ce0">DAPI</tspan></text>
<text x="345.5" y="328" font-family="Liberation Sans" font-weight="bold" font-size="11.35" text-anchor="end" fill="#f03a3a" stroke="#f03a3a">VCAM-1/<tspan fill="#6a9ce0" stroke="#6a9ce0">DAPI</tspan></text>
<text x="345.5" y="451.2" font-family="Liberation Sans" font-weight="bold" font-size="11.35" text-anchor="end" fill="#f03a3a" stroke="#f03a3a">VCAM-1/<tspan fill="#6a9ce0" stroke="#6a9ce0">DAPI</tspan></text>
<rect x="143" y="448.8" width="36.7" height="1.8" fill="#fff"/>
<rect x="187.5" y="448.6" width="36.6" height="1.8" fill="#fff"/>
</svg>
</body></html>
